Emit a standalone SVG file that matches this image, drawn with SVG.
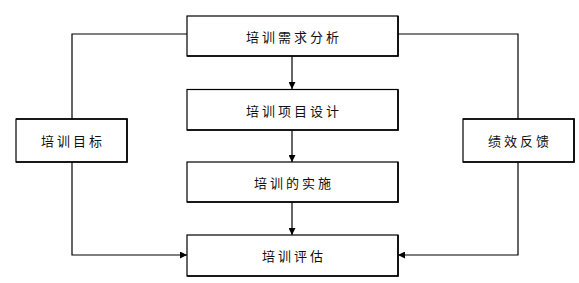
<svg xmlns="http://www.w3.org/2000/svg" width="579" height="283" viewBox="0 0 579 283">
<style>
.box{fill:#fff;stroke:#000;stroke-width:1.2}
.sh{fill:none;stroke:#000;stroke-width:1.6}
.t{font-family:"Noto Sans CJK SC","Noto Sans",sans-serif;font-size:13px;letter-spacing:3px;fill:#111;text-anchor:middle;dominant-baseline:central}
.c{fill:none;stroke:#000;stroke-width:1.2}
</style>
<defs>
<marker id="a" viewBox="0 0 10 10" refX="10" refY="5" markerWidth="7" markerHeight="7" markerUnits="userSpaceOnUse" orient="auto">
<path d="M0,0 L10,5 L0,10 z" fill="#000"/>
</marker>
</defs>
<rect width="579" height="283" fill="#fff"/>
<g id="connectors">
<line class="c" x1="292" y1="56" x2="292" y2="89" marker-end="url(#a)"/>
<line class="c" x1="292" y1="130" x2="292" y2="162" marker-end="url(#a)"/>
<line class="c" x1="292" y1="202" x2="292" y2="235" marker-end="url(#a)"/>
<polyline class="c" points="187,34 72,34 72,119"/>
<polyline class="c" points="72,162 72,255 187,255" marker-end="url(#a)"/>
<polyline class="c" points="398,34 518,34 518,119"/>
<polyline class="c" points="518,162 518,255 398,255" marker-end="url(#a)"/>
</g>
<g id="n1"><rect class="box" x="187" y="16" width="211" height="40"/><polyline class="sh" points="187,56 398,56 398,16"/><text class="t" x="294" y="36">培训需求分析</text></g>
<g id="n2"><rect class="box" x="187" y="89.5" width="211" height="40.5"/><polyline class="sh" points="187,130 398,130 398,89.5"/><text class="t" x="294" y="110">培训项目设计</text></g>
<g id="n3"><rect class="box" x="187" y="162" width="211" height="40"/><polyline class="sh" points="187,202 398,202 398,162"/><text class="t" x="294" y="182">培训的实施</text></g>
<g id="n4"><rect class="box" x="187" y="235" width="211" height="41"/><polyline class="sh" points="187,276 398,276 398,235"/><text class="t" x="294" y="255.5">培训评估</text></g>
<g id="n5"><rect class="box" x="16" y="119" width="111" height="43"/><polyline class="sh" points="16,119 127,119 127,162 16,162"/><text class="t" x="73" y="140.5">培训目标</text></g>
<g id="n6"><rect class="box" x="463" y="119" width="111" height="43"/><polyline class="sh" points="463,119 574,119 574,162 463,162"/><text class="t" x="520" y="140.5">绩效反馈</text></g>
</svg>
